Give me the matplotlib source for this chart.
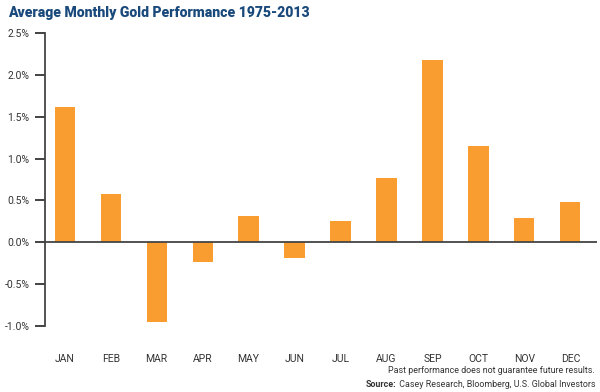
import matplotlib
matplotlib.use("Agg")
import matplotlib.pyplot as plt
from matplotlib.ticker import FuncFormatter

# ── Data ──────────────────────────────────────────────────────────────────────

months  = ["JAN", "FEB", "MAR", "APR", "MAY", "JUN",
           "JUL", "AUG", "SEP", "OCT", "NOV", "DEC"]
returns = [1.62, 0.58, -0.95, -0.24, 0.32, -0.19,
           0.25, 0.77, 2.18, 1.15, 0.29, 0.48]
y_ticks = [-1.0, -0.5, 0.0, 0.5, 1.0, 1.5, 2.0, 2.5]

# ── Style ─────────────────────────────────────────────────────────────────────

BAR_COLOR   = "#f99d31"
TITLE_COLOR = "#1a4a7c"
AXIS_COLOR  = "#444444"
TEXT_COLOR  = "#333333"

plt.rcParams["font.family"] = ["Roboto", "DejaVu Sans"]

# ── Plot ──────────────────────────────────────────────────────────────────────

fig = plt.figure(figsize=(6.0, 3.92), dpi=100)
ax  = fig.add_axes([0.075, 0.168, 0.92, 0.748])

x = range(len(months))
ax.bar(x, returns, width=0.44, color=BAR_COLOR, zorder=2)
ax.axhline(0, color=AXIS_COLOR, linewidth=1.3, zorder=3)

ax.set_xlim(-0.43, 11.58)
ax.set_ylim(-1.0, 2.5)
ax.set_yticks(y_ticks)
ax.yaxis.set_major_formatter(FuncFormatter(lambda v, _: f"{v:.1f}%"))
ax.set_xticks(list(x))
ax.set_xticklabels(months)

for side in ["top", "right", "bottom"]:
    ax.spines[side].set_visible(False)
ax.spines["left"].set_color(AXIS_COLOR)
ax.spines["left"].set_linewidth(1.3)

ax.tick_params(axis="y", length=7, width=1.2, color="#222222",
               labelsize=7.5, labelcolor=TEXT_COLOR, pad=4)
ax.tick_params(axis="x", length=0, labelsize=7.5,
               labelcolor=TEXT_COLOR, pad=20)

fig.text(0.013, 0.968, "Average Monthly Gold Performance 1975-2013",
         fontsize=10.1, fontweight="heavy", color=TITLE_COLOR,
         va="center", ha="left")

fig.text(0.992, 0.056, "Past performance does not guarantee future results.",
         fontsize=6.4, color=TEXT_COLOR, ha="right", va="center")
src = fig.text(0.992, 0.018, " Casey Research, Bloomberg, U.S. Global Investors",
               fontsize=6.4, color=TEXT_COLOR, ha="right", va="center")

# put the bold "Source:" right before the source line
fig.canvas.draw()
bb = src.get_window_extent()
fig.text(bb.x0 / fig.bbox.width, 0.018, "Source:", fontsize=6.4,
         fontweight="bold", color=TEXT_COLOR, ha="right", va="center")

fig.savefig("out.png", dpi=100)
